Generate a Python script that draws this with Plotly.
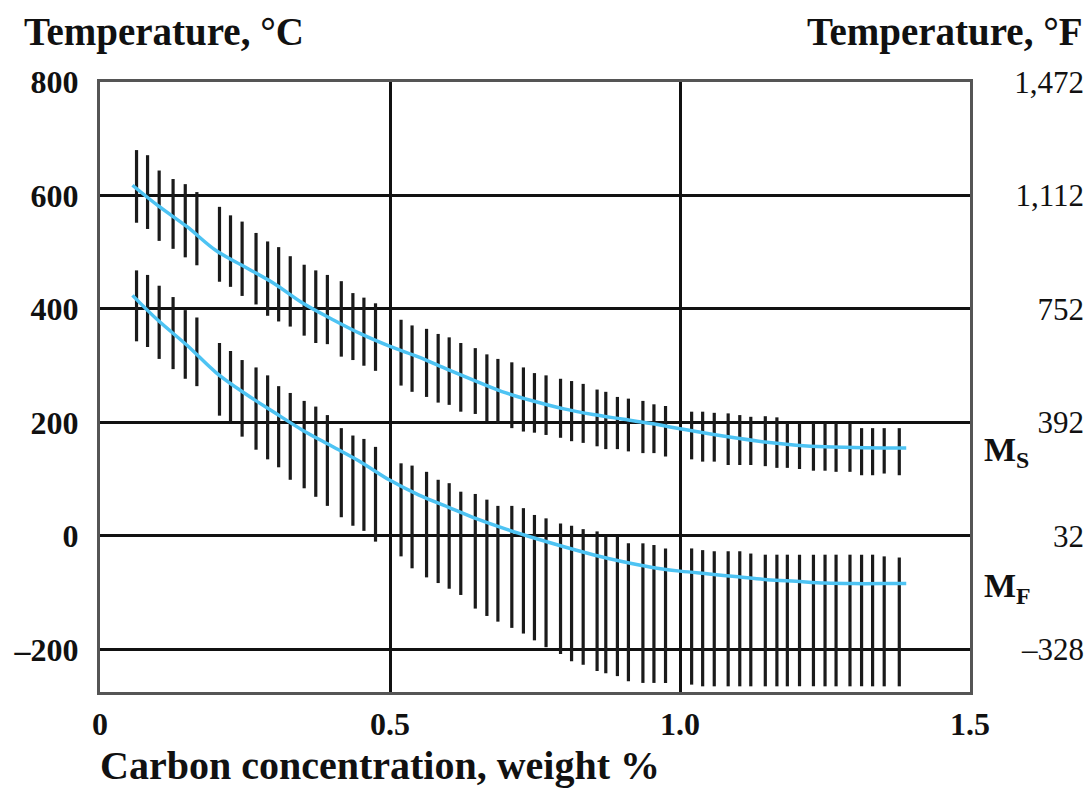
import plotly.graph_objects as go

# Carbon content (weight %) at which each scatter-band bar is drawn
carbon_bars = [
    0.063, 0.082, 0.102, 0.126, 0.147, 0.167, 0.206, 0.225, 0.245, 0.269,
    0.289, 0.308, 0.328, 0.352, 0.372, 0.392, 0.416, 0.436, 0.455, 0.475,
    0.519, 0.538, 0.563, 0.583, 0.602, 0.622, 0.647, 0.667, 0.686, 0.710,
    0.730, 0.749, 0.769, 0.794, 0.813, 0.833, 0.857, 0.872, 0.892, 0.911,
    0.936, 0.955, 0.975,
    1.020, 1.039, 1.059, 1.083, 1.103, 1.122, 1.147, 1.167, 1.185, 1.206,
    1.230, 1.250, 1.269, 1.293, 1.313, 1.332, 1.352, 1.378,
]

# Martensite start (Ms) scatter band, deg C
ms_high = [
    680, 671, 644, 629, 620, 606, 580, 565, 554, 534,
    519, 509, 493, 478, 468, 460, 449, 428, 420, 410,
    381, 371, 365, 356, 350, 340, 331, 320, 312, 306,
    297, 287, 283, 277, 273, 268, 258, 254, 245, 242,
    238, 232, 229,
    219, 219, 217, 216, 213, 210, 211, 209, 199, 199,
    199, 199, 199, 199, 190, 190, 190, 190,
]
ms_low = [
    552, 541, 520, 506, 491, 477, 448, 439, 423, 408,
    388, 378, 369, 353, 340, 338, 316, 310, 300, 291,
    265, 254, 245, 235, 231, 219, 215, 202, 199, 190,
    184, 182, 178, 173, 167, 164, 158, 153, 153, 149,
    146, 146, 140,
    135, 131, 131, 125, 125, 125, 123, 120, 120, 118,
    115, 115, 113, 113, 107, 107, 110, 107,
]

# Martensite finish (Mf) scatter band, deg C
mf_high = [
    468, 460, 441, 421, 398, 385, 340, 326, 310, 297,
    283, 264, 252, 238, 228, 213, 190, 177, 171, 157,
    128, 124, 113, 99, 93, 78, 74, 64, 53, 53,
    49, 37, 31, 22, 18, 12, 8, -1, -1, -13,
    -13, -16, -22,
    -22, -25, -27, -27, -27, -31, -33, -33, -33, -33,
    -33, -33, -33, -33, -33, -33, -36, -38,
]
mf_low = [
    343, 333, 312, 294, 277, 264, 212, 202, 175, 152,
    135, 121, 99, 84, 69, 53, 33, 18, 9, -10,
    -36, -57, -73, -83, -93, -104, -128, -141, -151, -162,
    -172, -184, -196, -208, -221, -227, -238, -242, -247, -256,
    -259, -259, -259,
    -262, -265, -265, -265, -265, -265, -265, -265, -265, -265,
    -265, -265, -265, -265, -265, -265, -265, -265,
]

# Mean transformation curves
carbon_curve = [
    0.056, 0.10, 0.15, 0.20, 0.25, 0.30, 0.35, 0.40, 0.45, 0.50,
    0.55, 0.60, 0.65, 0.70, 0.75, 0.80, 0.85, 0.90, 0.95, 1.00,
    1.05, 1.10, 1.15, 1.20, 1.25, 1.30, 1.35, 1.39,
]
ms_curve = [
    618, 582, 545, 503, 474, 445, 410, 382, 356, 334,
    315, 293, 272, 252, 237, 224, 214, 206, 198, 189,
    180, 172, 165, 160, 157, 156, 155, 155,
]
mf_curve = [
    424, 380, 336, 288, 251, 218, 186, 158, 130, 98,
    72, 51, 30, 12, -4, -19, -33, -45, -55, -62,
    -67, -72, -77, -80, -83, -84, -84, -84,
]

# Axis ticks: Celsius on the left, Fahrenheit equivalents on the right
celsius_ticks = [-200, 0, 200, 400, 600, 800]
celsius_text = ["\u2013200", "0", "200", "400", "600", "800"]
fahrenheit_text = ["\u2013328", "32", "392", "752", "1,112", "1,472"]
carbon_ticks = [0, 0.5, 1.0, 1.5]
carbon_text = ["0", "0.5", "1.0", "1.5"]

SERIF = "Liberation Serif"
INK = "#111111"
BLUE = "#4dc3f3"


def bar_segments(xs, lows, highs):
    """Turn low/high pairs into one broken line of vertical bars."""
    px, py = [], []
    for x, lo, hi in zip(xs, lows, highs):
        px += [x, x, None]
        py += [lo, hi, None]
    return px, py


fig = go.Figure()

for lows, highs in ((ms_low, ms_high), (mf_low, mf_high)):
    bx, by = bar_segments(carbon_bars, lows, highs)
    fig.add_trace(go.Scatter(
        x=bx, y=by, mode="lines",
        line=dict(color="#1a1a1a", width=3.2),
        hoverinfo="skip", showlegend=False,
    ))

for curve in (ms_curve, mf_curve):
    fig.add_trace(go.Scatter(
        x=carbon_curve, y=curve, mode="lines",
        line=dict(color=BLUE, width=3.5, shape="spline"),
        showlegend=False,
    ))

# Invisible trace that activates the Fahrenheit axis
fig.add_trace(go.Scatter(
    x=[None], y=[None], yaxis="y2", showlegend=False, hoverinfo="skip",
))

Y_RANGE = [-275, 800]
X_DOMAIN_END = 0.8824

fig.update_layout(
    width=1092, height=794,
    margin=dict(l=100, r=6, t=82, b=102, autoexpand=False),
    paper_bgcolor="white", plot_bgcolor="white",
    font=dict(family=SERIF, color=INK),
    xaxis=dict(
        range=[0, 1.5], domain=[0, X_DOMAIN_END], automargin=False,
        tickvals=carbon_ticks, ticktext=carbon_text,
        tickfont=dict(family=SERIF, size=32, weight="bold", color=INK),
        ticks="", ticklabelstandoff=2,
        showgrid=True, gridcolor="#111111", gridwidth=2.5,
        zeroline=False,
        showline=True, mirror=True, linecolor="#555555", linewidth=3,
    ),
    yaxis=dict(
        range=Y_RANGE, automargin=False,
        tickvals=celsius_ticks, ticktext=celsius_text,
        tickfont=dict(family=SERIF, size=32, weight="bold", color=INK),
        ticks="", ticklabelstandoff=12,
        showgrid=True, gridcolor="#111111", gridwidth=2.5,
        zeroline=False,
        showline=True, mirror=True, linecolor="#555555", linewidth=3,
    ),
    yaxis2=dict(
        range=Y_RANGE, overlaying="y", side="left",
        anchor="free", position=1.0, automargin=False,
        tickvals=celsius_ticks, ticktext=fahrenheit_text,
        tickfont=dict(family=SERIF, size=31, color=INK),
        ticks="", ticklabelstandoff=2,
        showgrid=False, zeroline=False, showline=False,
    ),
    annotations=[
        dict(text="Temperature, \u00b0C", xref="paper", yref="paper",
             x=-0.079, y=1.082, xanchor="left", yanchor="middle",
             showarrow=False, font=dict(size=39, weight="bold", color=INK)),
        dict(text="Temperature, \u00b0F", xref="paper", yref="paper",
             x=0.999, y=1.082, xanchor="right", yanchor="middle",
             showarrow=False, font=dict(size=39, weight="bold", color=INK)),
        dict(text="Carbon concentration, weight %", xref="paper", yref="paper",
             x=-0.002, y=-0.12, xanchor="left", yanchor="middle",
             showarrow=False, font=dict(size=40, weight="bold", color=INK)),
        dict(text="M<sub>S</sub>", xref="paper", yref="y",
             x=0.895, y=ms_curve[-1], xanchor="left", yanchor="middle",
             yshift=-4, showarrow=False,
             font=dict(size=34, weight="bold", color=INK)),
        dict(text="M<sub>F</sub>", xref="paper", yref="y",
             x=0.895, y=mf_curve[-1], xanchor="left", yanchor="middle",
             yshift=-4, showarrow=False,
             font=dict(size=34, weight="bold", color=INK)),
    ],
)

fig.write_html("out.html")
